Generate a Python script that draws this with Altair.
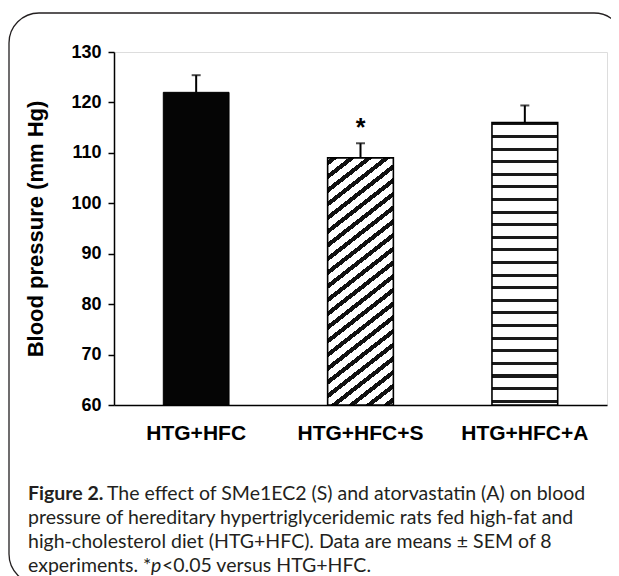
import math
import altair as alt
import pandas as pd

# ---------------- data ----------------
categories = ["HTG+HFC", "HTG+HFC+S", "HTG+HFC+A"]
means = [122.0, 109.0, 116.0]
sems = [3.4, 2.9, 3.4]
y_ticks = [60, 70, 80, 90, 100, 110, 120, 130]
asterisk_cat = ["HTG+HFC+S"]
# caption segments: (line, text, weight, style, x offset from caption start)
seg_line = [0, 0, 1, 2, 3, 3, 3]
seg_text = [
    "Figure 2.",
    "The effect of SMe1EC2 (S) and atorvastatin (A) on blood",
    "pressure of hereditary hypertriglyceridemic rats fed high-fat and",
    "high-cholesterol diet (HTG+HFC). Data are means ± SEM of 8",
    "experiments. *",
    "p",
    "<0.05 versus HTG+HFC.",
]
seg_weight = ["bold", "normal", "normal", "normal", "normal", "normal", "normal"]
seg_style = ["normal", "normal", "normal", "normal", "normal", "italic", "normal"]
seg_dx = [0, 79, 0, 0, 0, 123, 134]

# ---------------- layout ----------------
W, H = 493, 353
Y_MIN, Y_MAX = 60, 130
PAD_INNER, PAD_OUTER = 0.6, 0.3
FONT_AX = "Liberation Sans"
FONT_CAP = "Lato"
CAP_SIZE = 19.5
INK = "#000000"
CAP_INK = "#231f20"

df = pd.DataFrame({"cat": categories, "mean": means, "sem": sems})
df["hi"] = df["mean"] + df["sem"]

step = W / (len(categories) - PAD_INNER + 2 * PAD_OUTER)
bandw = step * (1 - PAD_INNER)
px_per_unit = H / (Y_MAX - Y_MIN)


def stripe_stops(period, thick, phase=0.0, ink="#111111"):
    stops = [{"offset": 0.0, "color": "#ffffff"}]
    k = 0
    while True:
        a = phase + k * period
        b = a + thick
        if a > 1.0:
            break
        a2, b2 = max(a, 0.0), min(b, 1.0)
        if b2 > a2:
            stops.append({"offset": round(a2, 5), "color": "#ffffff"})
            stops.append({"offset": round(a2, 5), "color": ink})
            stops.append({"offset": round(b2, 5), "color": ink})
            stops.append({"offset": round(b2, 5), "color": "#ffffff"})
        k += 1
    stops.append({"offset": 1.0, "color": "#ffffff"})
    return stops


# diagonal hatch for bar 2
h2 = (means[1] - Y_MIN) * px_per_unit
theta = math.radians(38)
ratio = bandw * math.tan(theta) / h2
bb = (1 + ratio) / (ratio ** 2 + 1)
aa = ratio * bb
g = math.sqrt((aa / bandw) ** 2 + (bb / h2) ** 2) / (aa ** 2 + bb ** 2)
diag_fill = {
    "gradient": "linear",
    "x1": 0, "y1": 0, "x2": round(aa, 5), "y2": round(bb, 5),
    "stops": stripe_stops(10.8 * g, 4.2 * g, phase=2.0 * g),
}

# horizontal stripes for bar 3
stripe_vals = [60.75 + 2.5 * k for k in range(23)]
hstops = [{"offset": 0.0, "color": "#ffffff"}]
for v in sorted(stripe_vals, reverse=True):
    a = max((means[2] - (v + 0.3)) / (means[2] - Y_MIN), 0.0)
    b = min((means[2] - (v - 0.3)) / (means[2] - Y_MIN), 1.0)
    hstops += [
        {"offset": round(a, 5), "color": "#ffffff"},
        {"offset": round(a, 5), "color": "#1a1a1a"},
        {"offset": round(b, 5), "color": "#1a1a1a"},
        {"offset": round(b, 5), "color": "#ffffff"},
    ]
hstops.append({"offset": 1.0, "color": "#ffffff"})
horiz_fill = {"gradient": "linear", "x1": 0, "y1": 0, "x2": 0, "y2": 1, "stops": hstops}

base = alt.Chart(df)

x_enc = alt.X(
    "cat:N",
    sort=categories,
    scale=alt.Scale(paddingInner=PAD_INNER, paddingOuter=PAD_OUTER),
    axis=alt.Axis(
        title=None, labelAngle=0, ticks=False, domainColor=INK, domainWidth=1.5,
        labelFont=FONT_AX, labelFontWeight="bold", labelFontSize=21,
        labelColor=INK, labelPadding=17,
    ),
)
y_scale = alt.Scale(domain=[Y_MIN, Y_MAX], nice=False, zero=False)
y_enc = alt.Y(
    "mean:Q",
    scale=y_scale,
    axis=alt.Axis(
        values=y_ticks, title="Blood pressure (mm Hg)", grid=False,
        domainColor=INK, domainWidth=1.5, tickColor=INK, tickWidth=1.5, tickSize=6,
        labelFont=FONT_AX, labelFontWeight="bold", labelFontSize=18, labelColor=INK,
        labelPadding=7, titleFont=FONT_AX, titleFontWeight="bold", titleFontSize=22,
        titleColor=INK, titlePadding=23,
    ),
)

bar1 = base.transform_filter(alt.datum.cat == categories[0]).mark_bar(
    fill="#050505", stroke=INK, strokeWidth=1
).encode(x=x_enc, y=y_enc, y2=alt.datum(Y_MIN))
bar2 = base.transform_filter(alt.datum.cat == categories[1]).mark_bar(
    fill=diag_fill, stroke=INK, strokeWidth=1.6
).encode(x=x_enc, y=y_enc, y2=alt.datum(Y_MIN))
bar3 = base.transform_filter(alt.datum.cat == categories[2]).mark_bar(
    fill=horiz_fill, stroke=INK, strokeWidth=1.6
).encode(x=x_enc, y=y_enc, y2=alt.datum(Y_MIN))

stem = base.mark_rule(color=INK, strokeWidth=2).encode(
    x=alt.X("cat:N", sort=categories),
    y=alt.Y("mean:Q", scale=y_scale),
    y2="hi:Q",
)
cap = base.mark_tick(color=INK, thickness=2, size=9).encode(
    x=alt.X("cat:N", sort=categories),
    y=alt.Y("hi:Q", scale=y_scale),
)
star = base.transform_filter(
    alt.FieldOneOfPredicate(field="cat", oneOf=asterisk_cat)
).mark_text(
    text="*", font=FONT_AX, fontWeight="bold", fontSize=25, color=INK,
    baseline="alphabetic", dy=-7,
).encode(
    x=alt.X("cat:N", sort=categories),
    y=alt.Y("hi:Q", scale=y_scale),
)

# frame
frame = alt.Chart(pd.DataFrame({"k": [0]})).mark_rect(
    fillOpacity=0, stroke="#231f20", strokeWidth=1.3, cornerRadius=30
).encode(
    x=alt.value(-105), x2=alt.value(510), y=alt.value(-39), y2=alt.value(532)
)

# caption
CAP_X0, CAP_Y0, CAP_LH = -86, 442, 24
seg_df = pd.DataFrame({
    "line": seg_line, "txt": seg_text, "w": seg_weight, "st": seg_style, "dx": seg_dx,
})
seg_df["px"] = CAP_X0 + seg_df["dx"]
seg_df["py"] = CAP_Y0 + CAP_LH * seg_df["line"]


def cap_layer(weight, style):
    sub = seg_df[(seg_df["w"] == weight) & (seg_df["st"] == style)]
    return alt.Chart(sub).mark_text(
        font=FONT_CAP, fontSize=CAP_SIZE, fontWeight=weight, fontStyle=style,
        color=CAP_INK, align="left", baseline="middle",
    ).encode(
        x=alt.X("px:Q", scale=None), y=alt.Y("py:Q", scale=None), text="txt:N"
    )


cap_normal = cap_layer("normal", "normal")
cap_bold = cap_layer("bold", "normal")
cap_ital = cap_layer("normal", "italic")

chart = alt.layer(
    frame, bar1, bar2, bar3, stem, cap, star, cap_normal, cap_bold, cap_ital
).properties(
    width=W, height=H,
    autosize=alt.AutoSizeParams(type="none"),
    padding={"left": 106, "top": 44, "right": 4, "bottom": 171},
).configure_view(stroke=None).configure(background="white")

chart.save("out.html", embed_options={"renderer": "svg", "actions": False})
